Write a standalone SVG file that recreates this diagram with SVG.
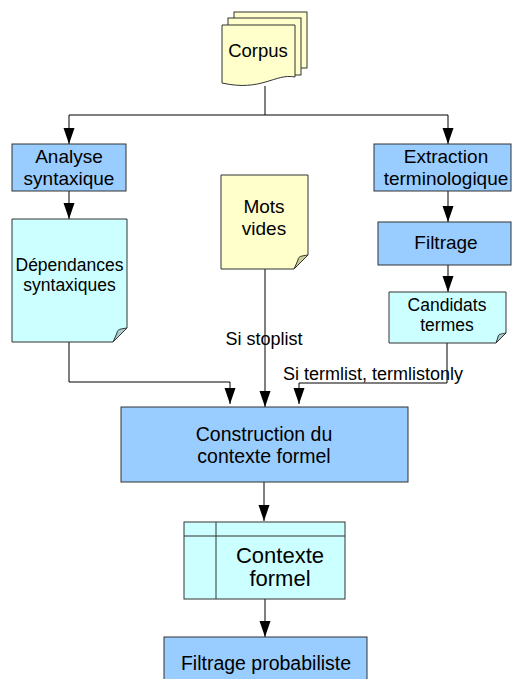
<svg xmlns="http://www.w3.org/2000/svg" width="512" height="679" viewBox="0 0 512 679">
<style>
.box{fill:#99ccff;stroke:#333;stroke-width:1}
.doc{fill:#ccffff;stroke:#333;stroke-width:1}
.ydoc{fill:#ffffcc;stroke:#333;stroke-width:1}
.cfold{fill:#a9cccc;stroke:#333;stroke-width:1}
.yfold{fill:#cccc99;stroke:#333;stroke-width:1}
.t{font-family:"Liberation Sans",Arial,sans-serif;fill:#000;text-anchor:middle}
.conn path{fill:none;stroke:#000;stroke-width:1;marker-end:url(#arr)}
</style>
<defs>
<marker id="arr" markerUnits="userSpaceOnUse" markerWidth="16" markerHeight="12" refX="16" refY="5.5" orient="auto">
<path d="M0,0 L16,5.5 L0,11 Z" fill="#000"/>
</marker>
</defs>
<rect width="512" height="679" fill="#fff"/>
<g class="conn">
<path d="M265,86 V115 H69 V144"/>
<path d="M265,115 H448 V144"/>
<path d="M69,191 V219"/>
<path d="M448,191 V222"/>
<path d="M448,265 V292"/>
<path d="M69,342 V382 H230 V404"/>
<path d="M265,269 V407"/>
<path d="M447,343 V383 H299 V404"/>
<path d="M264,482 V521"/>
<path d="M265,599 V637"/>
</g>
<g id="corpus">
<rect class="ydoc" x="234" y="12" width="73" height="56"/>
<rect class="ydoc" x="228" y="18" width="73" height="57"/>
<path class="ydoc" d="M222,25 H295 V77 C275,73 262,92 222,83 Z"/>
<text class="t" x="258" y="57" font-size="18.5">Corpus</text>
</g>
<g id="analyse">
<rect class="box" x="12" y="144" width="114" height="47"/>
<text class="t" x="69" y="163" font-size="19">Analyse</text>
<text class="t" x="69" y="185" font-size="19">syntaxique</text>
</g>
<g id="dependances">
<path class="doc" d="M12,219 H127 V328 L113,342 H12 Z"/>
<path class="cfold" d="M127,328 C121,329 117,329 117,333 L113,342 Z"/>
<text class="t" x="69.5" y="271" font-size="17.5">Dépendances</text>
<text class="t" x="69.5" y="291" font-size="17.5">syntaxiques</text>
</g>
<g id="mots">
<path class="ydoc" d="M221,175 H308 V255 L294,269 H221 Z"/>
<path class="yfold" d="M308,255 C302,256 298,256 298,260 L294,269 Z"/>
<text class="t" x="264" y="213" font-size="19">Mots</text>
<text class="t" x="264" y="235" font-size="19">vides</text>
</g>
<g id="extraction">
<rect class="box" x="374" y="144" width="137" height="47"/>
<text class="t" x="446" y="163" font-size="19">Extraction</text>
<text class="t" x="446" y="185" font-size="19">terminologique</text>
</g>
<g id="filtrage">
<rect class="box" x="378" y="222" width="133" height="43"/>
<text class="t" x="446" y="249" font-size="19">Filtrage</text>
</g>
<g id="candidats">
<path class="doc" d="M389,292 H506 V333 L496,343 H389 Z"/>
<path class="cfold" d="M506,333 C501,334 498,334 498,337 L496,343 Z"/>
<text class="t" x="447" y="311" font-size="17.5">Candidats</text>
<text class="t" x="447" y="331" font-size="17.5">termes</text>
</g>
<g id="labels">
<text class="t" x="264" y="345" font-size="18">Si stoplist</text>
<text class="t" x="373" y="380" font-size="18">Si termlist, termlistonly</text>
</g>
<g id="construction">
<rect class="box" x="121" y="407" width="287" height="75"/>
<text class="t" x="264" y="441" font-size="19.5">Construction du</text>
<text class="t" x="264" y="463" font-size="19.5">contexte formel</text>
</g>
<g id="contexte">
<rect class="doc" x="184" y="522" width="161" height="77"/>
<path d="M184,536 H345 M216,522 V599" stroke="#333" fill="none"/>
<text class="t" x="280" y="563" font-size="22">Contexte</text>
<text class="t" x="280" y="586" font-size="22">formel</text>
</g>
<g id="probabiliste">
<rect class="box" x="164" y="637" width="203" height="50"/>
<text class="t" x="266" y="670" font-size="19.5">Filtrage probabiliste</text>
</g>
</svg>
